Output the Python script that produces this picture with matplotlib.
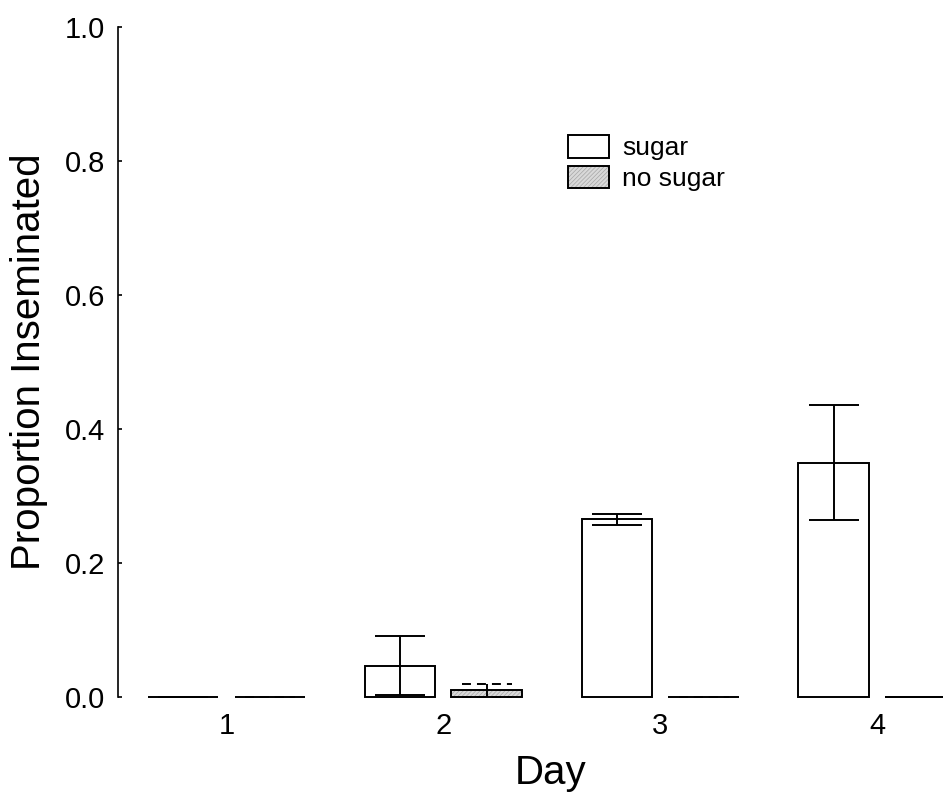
import matplotlib
matplotlib.use("Agg")
import matplotlib.pyplot as plt
import numpy as np
from matplotlib.patches import Patch
from matplotlib.legend_handler import HandlerTuple

plt.rcParams['font.family'] = ['Liberation Sans', 'DejaVu Sans']
plt.rcParams['hatch.linewidth'] = 0.5

days = [1, 2, 3, 4]
day_labels = ["1", "2", "3", "4"]
sugar_mean = [0.0, 0.047, 0.265, 0.350]
sugar_err = [0.0, 0.044, 0.0085, 0.086]
nosugar_mean = [0.0, 0.010, 0.0, 0.0]
nosugar_err = [0.0, 0.010, 0.0, 0.0]
yticks = [0.0, 0.2, 0.4, 0.6, 0.8, 1.0]

W, H = 943, 799
fig = plt.figure(figsize=(W / 100, H / 100), dpi=100)
left, right, bottom, top = 118, 985.5, 697, 27
ax = fig.add_axes([left / W, 1 - bottom / H, (right - left) / W, (bottom - top) / H])

x = np.array(days, dtype=float)
off = 0.2
bw = 0.325
capw = 0.23
lw = 1.4
dash = (0, (4.6, 3.1))
hatch_face = '#d9d9d9'
hatch_line = '#a6a6a6'

# sugar bars
ax.bar(x - off, sugar_mean, width=bw, facecolor='white', edgecolor='black',
       linewidth=lw, clip_on=False, zorder=2)
# no sugar bars: hatch then outline
ax.bar(x + off, nosugar_mean, width=bw, facecolor=hatch_face, edgecolor=hatch_line,
       hatch='////////', linewidth=0, clip_on=False, zorder=2)
ax.bar(x + off, nosugar_mean, width=bw, facecolor='none', edgecolor='black',
       linewidth=lw, clip_on=False, zorder=3)

sm = np.array(sugar_mean); se = np.array(sugar_err)
nm = np.array(nosugar_mean); ne = np.array(nosugar_err)

# sugar error bars (solid)
ax.vlines(x - off, sm - se, sm + se, colors='black', linewidth=lw, clip_on=False, zorder=4)
ax.hlines(sm + se, x - off - capw / 2, x - off + capw / 2, colors='black', linewidth=lw, clip_on=False, zorder=4)
ax.hlines(sm - se, x - off - capw / 2, x - off + capw / 2, colors='black', linewidth=lw, clip_on=False, zorder=4)

# no sugar error bars (dashed caps)
ax.vlines(x + off, nm - ne, nm + ne, colors='black', linewidth=lw, clip_on=False, zorder=4)
ax.hlines(nm + ne, x + off - capw / 2, x + off + capw / 2, colors='black', linewidth=lw,
          linestyles=[dash], clip_on=False, zorder=4)
ax.hlines(nm - ne, x + off - capw / 2, x + off + capw / 2, colors='black', linewidth=lw,
          linestyles=[dash], clip_on=False, zorder=4)

ax.set_xlim(0.5, 4.5)
ax.set_ylim(0, 1.0)
ax.set_yticks(yticks)
ax.set_yticklabels([f"{v:.1f}" for v in yticks])
ax.set_xticks(days)
ax.set_xticklabels(day_labels)

for s in ['top', 'right', 'bottom']:
    ax.spines[s].set_visible(False)
ax.spines['left'].set_linewidth(1.2)

ax.tick_params(axis='y', direction='in', length=3, width=1.2, labelsize=21, pad=9.4)
ax.tick_params(axis='x', length=0, labelsize=21, pad=10.5)

ax.set_xlabel("Day", fontsize=29)
ax.set_ylabel("Proportion Inseminated", fontsize=29)
ax.xaxis.set_label_coords((551 - left) / (right - left), -(754 - bottom) / (bottom - top))
ax.yaxis.set_label_coords(-(left - 48) / (right - left), 0.5)

h_sugar = Patch(facecolor='white', edgecolor='black', linewidth=lw)
h_nosugar = (Patch(facecolor=hatch_face, edgecolor=hatch_line, hatch='////////', linewidth=0),
             Patch(facecolor='none', edgecolor='black', linewidth=lw))
leg = ax.legend(handles=[h_sugar, h_nosugar], labels=['sugar', 'no sugar'],
                handler_map={tuple: HandlerTuple(ndivide=1, pad=0)},
                loc='upper left', bbox_to_anchor=(568 / W, 1 - 135 / H),
                bbox_transform=fig.transFigure, frameon=False, fontsize=19,
                handlelength=1.55, handleheight=0.95, handletextpad=0.5, labelspacing=0.2,
                borderpad=0, borderaxespad=0)

fig.savefig("out.png", dpi=100)
